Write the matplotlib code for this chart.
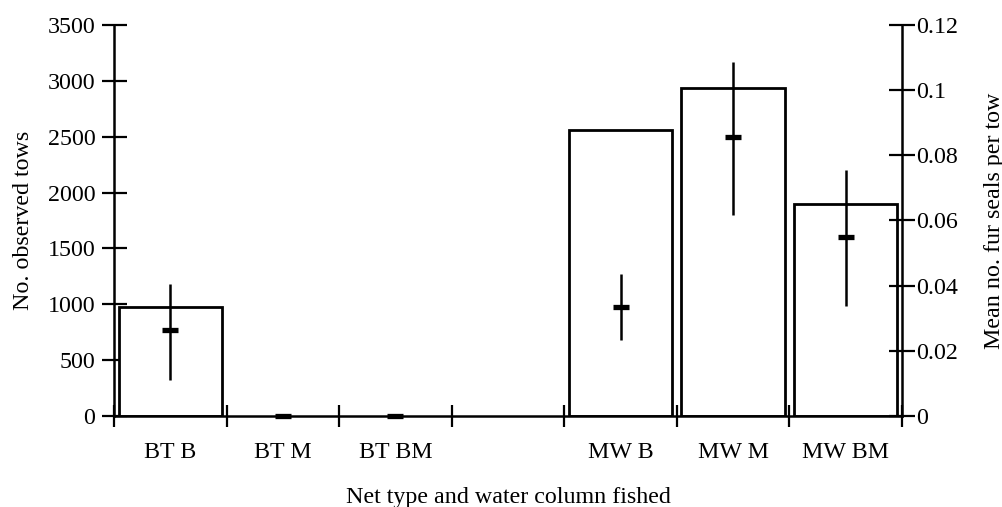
import numpy as np
import matplotlib
matplotlib.use("Agg")
import matplotlib.pyplot as plt

# Net type / water column categories (the fourth slot is an empty spacer)
categories = ["BT B", "BT M", "BT BM", "", "MW B", "MW M", "MW BM"]

# Number of observed tows (left axis)
tows = [975, 0, 0, np.nan, 2560, 2940, 1900]

# Mean number of fur seals per tow (right axis) with interval bounds
seal_mean = [0.0263, 0.0, 0.0, np.nan, 0.0334, 0.0856, 0.0549]
seal_low = [0.0111, 0.0, 0.0, np.nan, 0.0232, 0.0616, 0.0338]
seal_high = [0.0406, 0.0, 0.0, np.nan, 0.0436, 0.1086, 0.0755]

left_ticks = [0, 500, 1000, 1500, 2000, 2500, 3000, 3500]
right_ticks = [0, 0.02, 0.04, 0.06, 0.08, 0.1, 0.12]
right_labels = ["0", "0.02", "0.04", "0.06", "0.08", "0.1", "0.12"]

plt.rcParams["font.family"] = ["Liberation Serif", "DejaVu Serif"]
FS = 17.3

fig = plt.figure(figsize=(10.03, 5.07), dpi=100)
ax = fig.add_axes([0.1137, 0.1795, 0.7856, 0.7712])

x = np.arange(len(categories))
bar_vals = np.nan_to_num(np.array(tows, dtype=float))
has_bar = ~np.isnan(np.array(tows, dtype=float)) & (bar_vals > 0)
ax.bar(x[has_bar], bar_vals[has_bar], width=0.92, facecolor="white",
       edgecolor="black", linewidth=2, zorder=2)

ax.set_xlim(-0.5, len(categories) - 0.5)
ax.set_ylim(0, 3500)
ax.set_yticks(left_ticks)
ax.set_yticklabels([str(v) for v in left_ticks])

# boundary ticks between categories, labels centred in each slot
ax.set_xticks(np.arange(-0.5, len(categories) - 0.4, 1.0))
ax.set_xticklabels([])
ax.set_xticks(x, minor=True)
ax.set_xticklabels(categories, minor=True)
ax.tick_params(axis="x", which="major", direction="inout", length=16, width=1.6)
ax.tick_params(axis="x", which="minor", length=0, pad=19, labelsize=FS)
ax.tick_params(axis="y", direction="inout", length=18, width=1.6,
               labelsize=FS, pad=4.5)

for side in ["top", "right"]:
    ax.spines[side].set_visible(False)
for side in ["left", "bottom"]:
    ax.spines[side].set_linewidth(1.8)

ax.set_ylabel("No. observed tows", fontsize=FS, labelpad=10)
ax.set_xlabel("Net type and water column fished", fontsize=FS, labelpad=17)

# second axis for seals per tow
ax2 = ax.twinx()
ax2.set_ylim(0, 0.12)
ax2.set_yticks(right_ticks)
ax2.set_yticklabels(right_labels)
ax2.tick_params(axis="y", direction="inout", length=19, width=1.6,
                labelsize=FS, pad=1)
for side in ["top", "left", "bottom"]:
    ax2.spines[side].set_visible(False)
ax2.spines["right"].set_linewidth(1.8)
ax2.set_ylabel("Mean no. fur seals per tow", fontsize=FS, labelpad=18)

m = np.array(seal_mean)
lo = np.array(seal_low)
hi = np.array(seal_high)
ok = ~np.isnan(m)
ax2.errorbar(x[ok], m[ok], yerr=[m[ok] - lo[ok], hi[ok] - m[ok]],
             fmt="none", ecolor="black", elinewidth=1.8, capsize=0, zorder=3)
ax2.plot(x[ok], m[ok], linestyle="none", marker="_", markersize=11.5,
         markeredgewidth=3.8, color="black", zorder=4, clip_on=False)

fig.savefig("out.png", dpi=100)
